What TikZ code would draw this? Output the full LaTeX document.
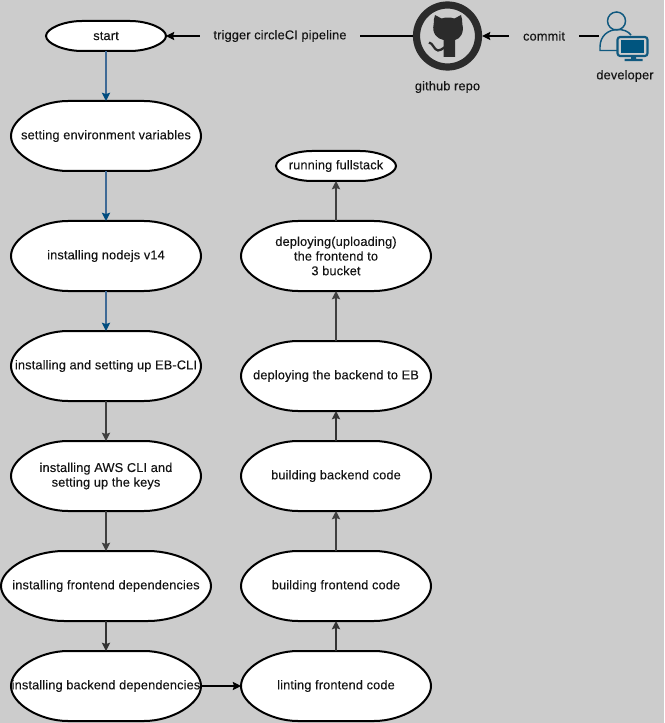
\documentclass[tikz,border=0pt]{standalone}
\usepackage{fontspec}
\setmainfont[LetterSpace=1,FakeBold=0.12]{Liberation Sans}
\usetikzlibrary{arrows.meta}
\definecolor{bgc}{HTML}{CCCCCC}
\definecolor{bluel}{HTML}{3F6A96}
\definecolor{bluet}{HTML}{004C7F}
\definecolor{iconb}{HTML}{10597F}
\definecolor{iconf}{HTML}{00557F}
\definecolor{ghc}{HTML}{2B2B2B}
\newcommand{\dn}[1]{\raisebox{-.7pt}{#1}}
\makeatletter
\newdimen\termcx \newdimen\termcy \newdimen\termhw \newdimen\termhh
\def\termpt#1#2{\pgfqpoint{\dimexpr\termcx+#1\termhw\relax}{\dimexpr\termcy+#2\termhh\relax}}
\pgfdeclareshape{termbox}{
  \inheritsavedanchors[from=rectangle]
  \inheritanchorborder[from=rectangle]
  \inheritanchor[from=rectangle]{center}
  \inheritanchor[from=rectangle]{north}
  \inheritanchor[from=rectangle]{south}
  \inheritanchor[from=rectangle]{east}
  \inheritanchor[from=rectangle]{west}
  \backgroundpath{
    \southwest \pgf@xa=\pgf@x \pgf@ya=\pgf@y
    \northeast \pgf@xb=\pgf@x \pgf@yb=\pgf@y
    \termcx=0.5\pgf@xa \advance\termcx by 0.5\pgf@xb
    \termcy=0.5\pgf@ya \advance\termcy by 0.5\pgf@yb
    \termhw=0.5\pgf@xb \advance\termhw by -0.5\pgf@xa
    \termhh=0.5\pgf@yb \advance\termhh by -0.5\pgf@ya
    \pgfpathmoveto{\termpt{-0.4}{1}}
    \pgfpathlineto{\termpt{0.4}{1}}
    \pgfpathcurveto{\termpt{0.7}{1}}{\termpt{1}{0.5}}{\termpt{1}{0}}
    \pgfpathcurveto{\termpt{1}{-0.5}}{\termpt{0.7}{-1}}{\termpt{0.4}{-1}}
    \pgfpathlineto{\termpt{-0.4}{-1}}
    \pgfpathcurveto{\termpt{-0.7}{-1}}{\termpt{-1}{-0.5}}{\termpt{-1}{0}}
    \pgfpathcurveto{\termpt{-1}{0.5}}{\termpt{-0.7}{1}}{\termpt{-0.4}{1}}
    \pgfpathclose
  }
}
\makeatother
\tikzset{
  x=0.75pt,y=-0.75pt,
  txt/.style={font=\fontsize{9.6}{11}\selectfont,text=black!92,align=center,inner sep=0pt},
  term/.style={shape=termbox,draw=black,fill=white,line width=1.5pt,txt,outer sep=0pt},
  big/.style={term,minimum width=142.5pt,minimum height=52.5pt},
  wide/.style={term,minimum width=157.5pt,minimum height=52.5pt},
  small/.style={term,minimum width=90pt,minimum height=22.5pt},
  tipb/.style={-{Stealth[length=6.2pt,width=6.2pt,inset=1pt]}},
  bluec/.style={draw=bluel,line width=1.1pt,arrows={-{Stealth[length=6.2pt,width=6.2pt,inset=1pt,color=bluet]}}},
  grayc/.style={tipb,draw=black!75,line width=1pt},
  blackc/.style={tipb,draw=black,line width=.8pt},
  mask/.style={txt,fill=bgc,minimum height=12pt},
}
\begin{document}
\begin{tikzpicture}
\useasboundingbox (0,0) rectangle (664,723);
\fill[bgc] (0,0) rectangle (664,723);
% flow nodes
\node[small] (start) at (106,36) {\dn{start}};
\node[big] (env) at (106,136) {\dn{setting environment variables}};
\node[big] (node) at (106,256) {\dn{installing nodejs v14}};
\node[big] (eb) at (106,366) {\dn{installing and setting up EB-CLI}};
\node[big] (aws) at (106,476) {\dn{installing AWS CLI and}\\\dn{setting up the keys}};
\node[wide] (fe) at (106,586) {\dn{installing frontend dependencies}};
\node[big] (be) at (106,686) {\dn{installing backend dependencies}};
\node[big] (lint) at (336,686) {\dn{linting frontend code}};
\node[big] (bfe) at (336,586) {\dn{building frontend code}};
\node[big] (bbe) at (336,476) {\dn{building backend code}};
\node[big] (deb) at (336,376) {\dn{deploying the backend to EB}};
\node[big] (ds3) at (336,256) {\dn{deploying(uploading)}\\\dn{the frontend to}\\\dn{3 bucket}};
\node[small] (run) at (336,166) {\dn{running fullstack}};
% github icon
\node[circle,draw=ghc,line width=5.4pt,minimum size=46.5pt,inner sep=0pt,outer sep=2.7pt] (gh) at (447.5,36) {};
\fill[ghc] (435,15) -- (441.5,18.5) .. controls (445,17.2) and (451,17.2) .. (454.5,18.5) -- (461,15)
  .. controls (462,18) and (462.5,21) .. (462.3,24) .. controls (464.5,33) and (460,39) .. (455,40)
  -- (455,57) -- (443.5,57) -- (443.5,40) .. controls (437,39) and (431.5,33) .. (433.7,24)
  .. controls (433.5,21) and (434,18) .. (435,15) -- cycle;
\draw[ghc,line width=1.7pt] (429,42.5) .. controls (433,43) and (434,50) .. (438,50.5) .. controls (440,50.7) and (442,49) .. (445,47);
% developer icon
\node[minimum width=36pt,minimum height=42pt,inner sep=0pt,outer sep=0pt] (dev) at (622.5,36) {};
\draw[iconb,line width=1.1pt] (616.5,21) circle[radius=9];
\draw[iconb,line width=1.1pt] (618,50.5) -- (600,50.5) -- (600,47) .. controls (600,36) and (608,29.5) .. (618,29.5) .. controls (623,29.5) and (628,31) .. (631,35);
\fill[bgc] (617,37) rectangle (648,56);
\draw[iconb,line width=1.6pt,rounded corners=2pt] (617.5,37) rectangle (647.5,56);
\fill[iconf] (621,40.5) rectangle (644,53);
\fill[iconb] (631,56) rectangle (636,60) (624.5,59) rectangle (642.5,61.2);
% connectors
\draw[bluec] (start.south) -- (env.north);
\draw[bluec] (env.south) -- (node.north);
\draw[bluec] (node.south) -- (eb.north);
\draw[grayc] (eb.south) -- (aws.north);
\draw[grayc] (aws.south) -- (fe.north);
\draw[tipb,draw=black!80,line width=1.2pt] (fe.south) -- (be.north);
\draw[blackc] (be.east) -- (lint.west);
\draw[tipb,draw=black!80,line width=1.2pt] (lint.north) -- (bfe.south);
\draw[grayc] (bfe.north) -- (bbe.south);
\draw[tipb,draw=black!80,line width=1.2pt] (bbe.north) -- (deb.south);
\draw[grayc] (deb.north) -- (ds3.south);
\draw[grayc] (ds3.north) -- (run.south);
\draw[blackc] (gh) -- (start.east);
\draw[blackc] (dev.west) -- (gh);
% labels
\node[mask,minimum width=120pt] (trig) at (280,36) {\dn{trigger circleCI pipeline}};
\node[mask,minimum width=52.5pt] (com) at (544,36) {\dn{commit}};
\node[txt] (ghl) at (447.5,87) {github repo};
\node[txt] (devl) at (625,76) {developer};
\end{tikzpicture}
\end{document}
